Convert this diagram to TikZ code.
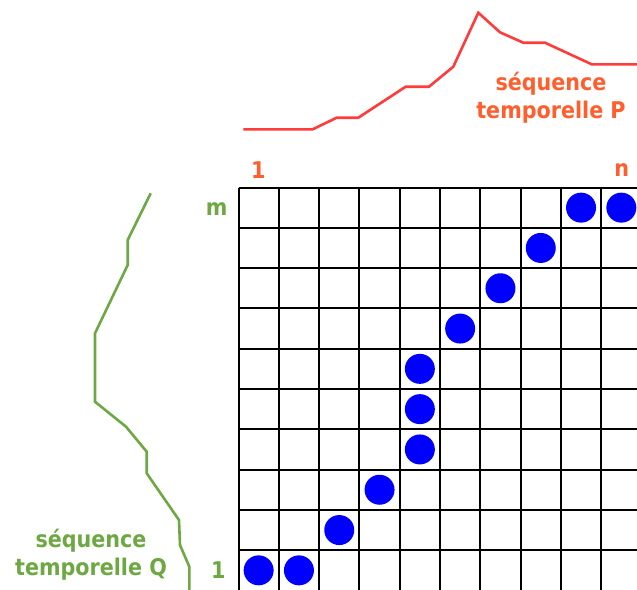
\documentclass[tikz,border=0pt]{standalone}
\usepackage{fontspec}
\newfontfamily\cf{DejaVu Sans Condensed Bold}
\definecolor{pred}{HTML}{FF3B3B}
\definecolor{ptext}{HTML}{FF5F2E}
\definecolor{qgreen}{HTML}{6DA843}
\definecolor{dotblue}{HTML}{0000FF}
\begin{document}
\begin{tikzpicture}[x=1pt,y=-1pt,
  lbl/.style={font=\cf\fontsize{23}{28}\selectfont, inner sep=0pt, align=center},
  dot/.style={circle, fill=dotblue, minimum size=30pt, inner sep=0pt},
  gridline/.style={line width=2pt, black},
  curve/.style={line width=2.6pt, line join=miter}]
\useasboundingbox (0,0) rectangle (637,589);
\fill[white] (0,0) rectangle (637,589);
% grid
\foreach \k in {0,...,10} {
  \draw[gridline] ({238.5+40.3*\k},187.5) -- ({238.5+40.3*\k},590.5);
  \draw[gridline] (238.5,{187.5+40.3*\k}) -- (641.5,{187.5+40.3*\k});
}
% dots (column, row from bottom)
\foreach \i/\j [count=\n] in {1/1,2/1,3/2,4/3,5/4,5/5,5/6,6/7,7/8,8/9,9/10,10/10} {
  \node[dot] (d\n) at ({238.5+40.3*(\i-0.5)},{187.5+40.3*(10-\j+0.5)}) {};
}
% series P
\draw[curve, pred] (243.3,129.3) -- (312.7,129.3) -- (336.7,117.7) -- (358.3,117.7)
  -- (405.7,86.7) -- (429,86.7) -- (453.3,66.7) -- (478.3,12.7) -- (500,32.3)
  -- (523.3,42.7) -- (545,42.7) -- (591.7,64.3) -- (640,64.3);
\node[lbl, text=ptext] (ptitle) at (551,98) {séquence\\temporelle P};
\node[lbl, text=ptext] (pone) at (258.3,170.5) {1};
\node[lbl, text=ptext] (pn) at (621.7,170.5) {n};
% series Q
\draw[curve, qgreen] (150.7,193.3) -- (127.7,240) -- (127.7,265) -- (95,333.3)
  -- (95,401.7) -- (126,426.7) -- (146.7,451.7) -- (146.7,473.3) -- (179,520)
  -- (180,545) -- (189.3,566.7) -- (189.3,592);
\node[lbl, text=qgreen] (qtitle) at (91,555) {séquence\\temporelle Q};
\node[lbl, text=qgreen] (qm) at (216.7,209) {m};
\node[lbl, text=qgreen] (qone) at (218.3,570) {1};
\end{tikzpicture}
\end{document}
